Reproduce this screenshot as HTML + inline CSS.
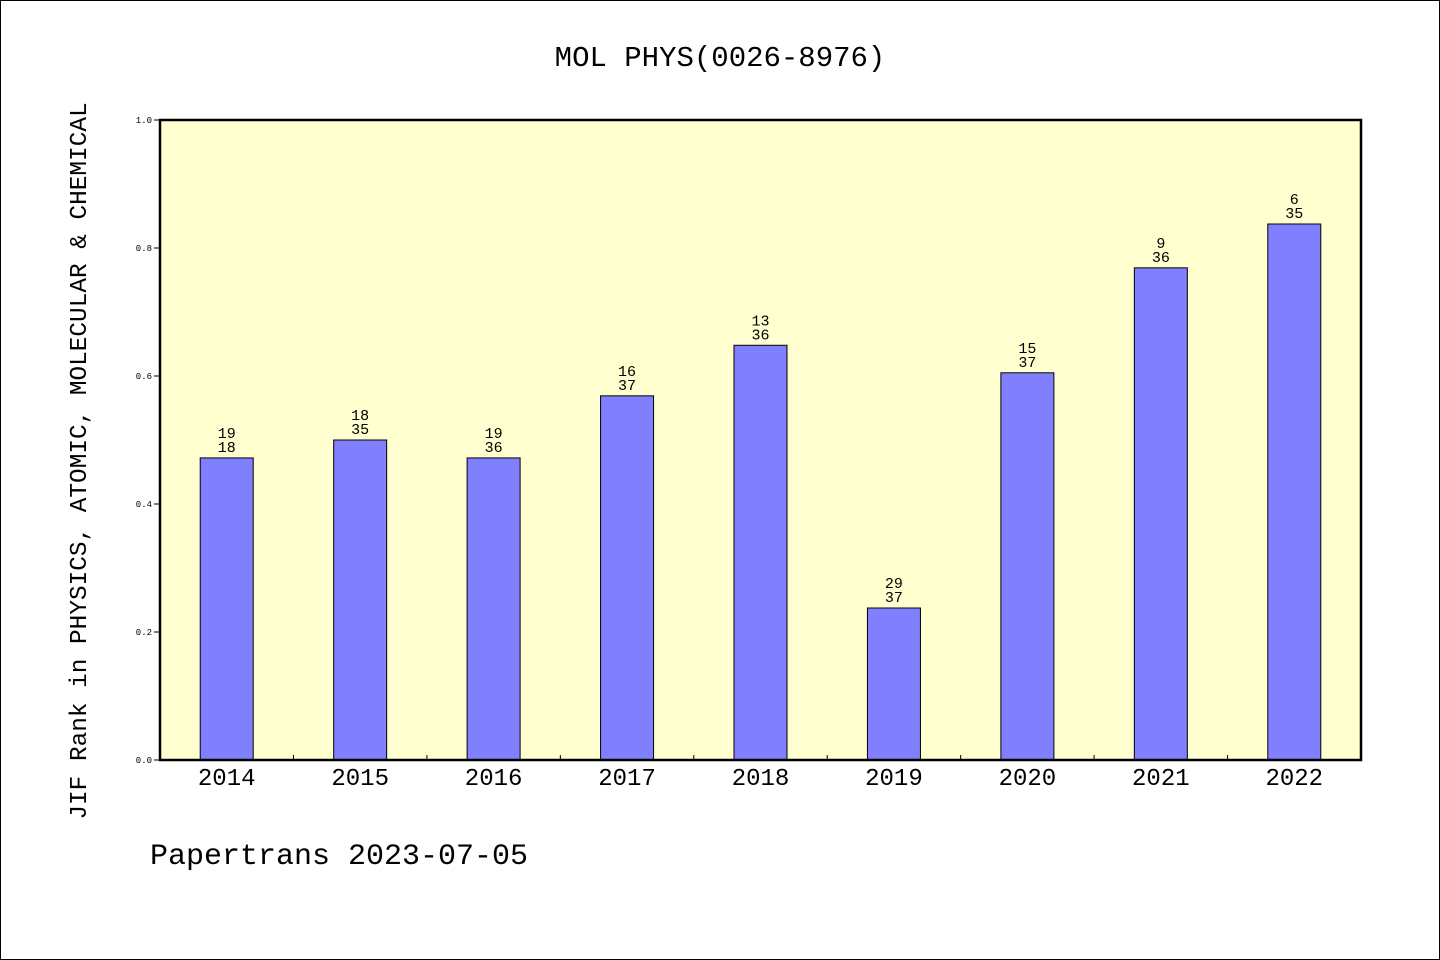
<!DOCTYPE html>
<html><head><meta charset="utf-8"><style>
html,body{margin:0;padding:0;background:#fff}
svg{display:block}
text{font-family:"Liberation Mono","WenQuanYi Zen Hei",monospace;fill:#000}
</style></head><body>
<svg id="chart" width="1440" height="960" viewBox="0 0 1440 960" xmlns="http://www.w3.org/2000/svg">
<rect x="0.5" y="0.5" width="1439" height="959" fill="#fff" stroke="#000" stroke-width="1"/>
<text x="720" y="66" font-size="29" text-anchor="middle">MOL PHYS(0026-8976)</text>
<rect x="160" y="120" width="1201" height="640" fill="#ffffd0"/>
<g id="bars"></g>
<rect x="160" y="120" width="1201" height="640" fill="none" stroke="#000" stroke-width="2.5"/>
<g id="axes"></g>
<text transform="translate(86,461) rotate(-90)" font-size="24.4" text-anchor="middle">JIF Rank in PHYSICS, ATOMIC, MOLECULAR &amp; CHEMICAL</text>
<text x="150" y="864" font-size="30">Papertrans 2023-07-05</text>
</svg>
<script>
const categories = ["2014","2015","2016","2017","2018","2019","2020","2021","2022"];
const values = [0.472,0.5,0.472,0.569,0.648,0.2375,0.605,0.769,0.8375];
const ranks = ["19","18","19","16","13","29","15","9","6"];
const totals = ["18","35","36","37","36","37","37","36","35"];
const yTicks = [0,0.2,0.4,0.6,0.8,1.0];
const yTickLabels = ["0.0","0.2","0.4","0.6","0.8","1.0"];

const NS="http://www.w3.org/2000/svg";
const X0=160,X1=1361,Y0=760,Y1=120;
const slot=(X1-X0)/categories.length;
const xc=i=>X0+slot*(i+0.5);
const y=v=>Y0-(Y0-Y1)*v;
function mk(tag,attrs,parent){const e=document.createElementNS(NS,tag);for(const k in attrs)e.setAttribute(k,attrs[k]);parent.appendChild(e);return e;}
const bars=document.getElementById('bars'),axes=document.getElementById('axes');
categories.forEach((c,i)=>{
  const w=53;
  const r=mk('rect',{x:xc(i)-w/2,y:y(values[i]),width:w,height:Y0-y(values[i]),fill:'#8080ff',stroke:'#000','stroke-width':1},bars);
  
  
  const t1=mk('text',{x:xc(i),y:y(values[i])-20,'font-size':15,'text-anchor':'middle'},bars);
  t1.textContent=ranks[i];
  
  
  const t2=mk('text',{x:xc(i),y:y(values[i])-6,'font-size':15,'text-anchor':'middle'},bars);
  t2.textContent=totals[i];
  
  
  const xl=mk('text',{x:xc(i),y:785,'font-size':24,'text-anchor':'middle'},axes);
  xl.textContent=c;
  
  
  if(i>0){
    const tk=mk('line',{x1:X0+slot*i,x2:X0+slot*i,y1:Y0,y2:Y0-5,stroke:'#000','stroke-width':1},axes);
    
    
  }
});
yTicks.forEach((v,i)=>{
  const tk=mk('line',{x1:X0-6,x2:X0,y1:y(v),y2:y(v),stroke:'#000','stroke-width':1},axes);
  
  
  const t=mk('text',{x:X0-8,y:y(v)+3,'font-size':9,'text-anchor':'end'},axes);
  t.textContent=yTickLabels[i];
  
  
});
</script>
</body></html>
